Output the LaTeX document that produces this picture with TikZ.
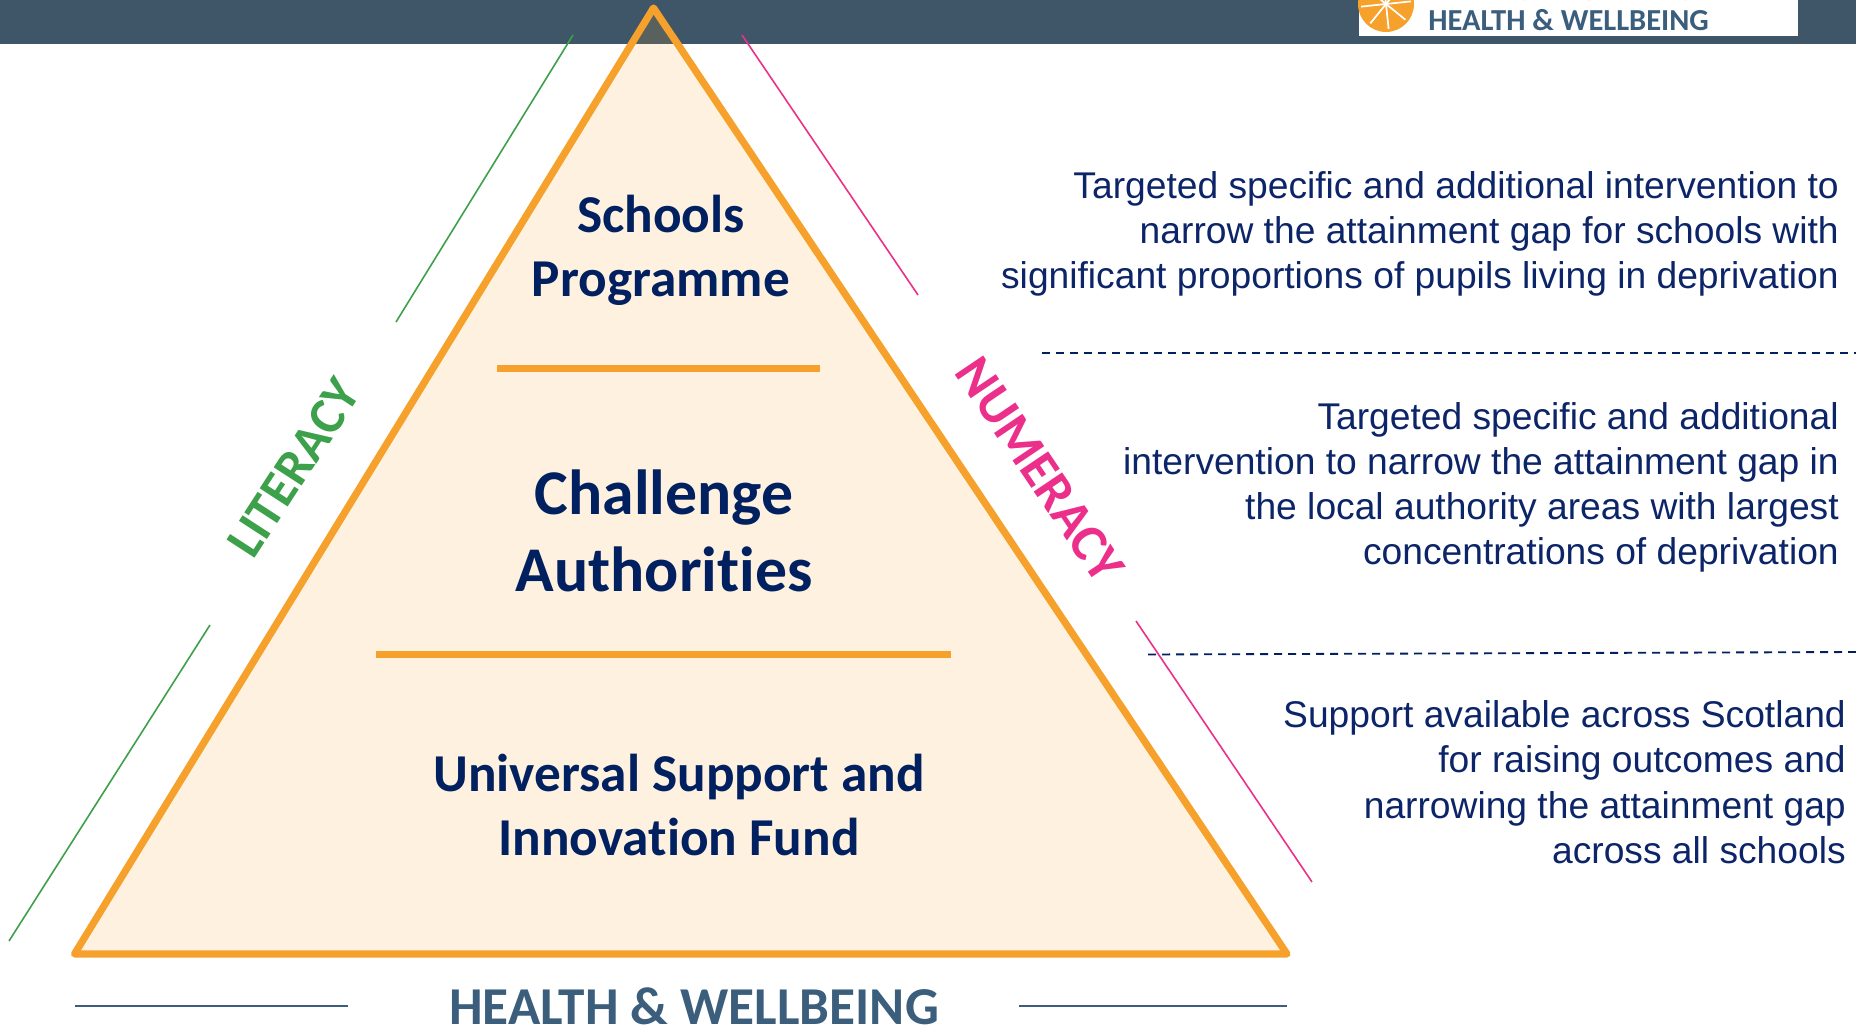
\documentclass[tikz,border=0pt]{standalone}
\usepackage{fontspec}
\setmainfont{Liberation Sans}
\newfontfamily\carl[Ligatures=CommonOff]{Carlito}
\definecolor{band}{HTML}{3E5668}
\definecolor{navy}{HTML}{002060}
\definecolor{orange}{HTML}{F6A12B}
\definecolor{litgreen}{HTML}{3DA04B}
\definecolor{numpink}{HTML}{EB2F8A}
\definecolor{hwblue}{HTML}{3B5E7C}
\definecolor{rightnavy}{HTML}{0C2468}
\tikzset{
  x=0.75pt,y=-0.75pt,
  tier/.style={text=navy,align=center,inner sep=0},
  sidetext/.style={font=\fontsize{27.8bp}{33.75bp}\selectfont,text=rightnavy,align=right,anchor=north east,inner sep=0},
  tierline/.style={draw=orange,line width=5.25pt},
  litline/.style={draw=litgreen,line width=1.2pt},
  numline/.style={draw=numpink,line width=1.2pt},
  hwline/.style={draw=hwblue,line width=1.2pt},
  sep/.style={draw=navy,line width=1.4pt,dash pattern=on 6pt off 4.5pt},
}
\begin{document}
\begin{tikzpicture}
\useasboundingbox (0,0) rectangle (1856,1028);
\clip (0,0) rectangle (1856,1028);
% header band and logo
\fill[band] (0,0) rectangle (1856,44);
\fill[white] (1359,0) rectangle (1798,36);
\fill[orange] (1386,4) circle (28);
\foreach \a in {0,45,...,315}{\draw[white,line width=1.3pt] (1386,4) -- ++(\a-6:25);}
\node[anchor=base west,inner sep=0,text=hwblue,font=\carl\bfseries\fontsize{22.8bp}{24bp}\selectfont] (logo) at (1428,31) {HEALTH \& WELLBEING};
\node[anchor=base west,inner sep=0,text=litgreen!40,font=\carl\bfseries\fontsize{22.8bp}{24bp}\selectfont] (logolit) at (1429,0.5) {LITERACY};
\node[anchor=base west,inner sep=0,text=numpink!40,font=\carl\bfseries\fontsize{22.8bp}{24bp}\selectfont] (logonum) at (1559,0.5) {NUMERACY};
% pyramid
\coordinate (apex) at (653.5,8);
\coordinate (bl) at (74.5,954);
\coordinate (br) at (1287,954);
\fill[orange,fill opacity=0.15] (apex) -- (br) -- (bl) -- cycle;
\draw[orange,line width=5.4pt,line join=round] (apex) -- (br) -- (bl) -- cycle;
% tier dividers
\coordinate (t1l) at (497,368); \coordinate (t1r) at (820,368);
\coordinate (t2l) at (376,654.5); \coordinate (t2r) at (951,654.5);
\draw[tierline] (t1l) -- (t1r);
\draw[tierline] (t2l) -- (t2r);
% tier labels
\node[tier,font=\carl\bfseries\fontsize{39.8bp}{48bp}\selectfont] (schools) at (661,250) {Schools\\Programme};
\node[tier,font=\carl\bfseries\fontsize{47.6bp}{57.5bp}\selectfont] (challenge) at (664,531) {Challenge\\Authorities};
\node[tier,font=\carl\bfseries\fontsize{39.8bp}{48bp}\selectfont] (universal) at (679,805) {Universal Support and\\Innovation Fund};
% side labels and lines
\coordinate (g1a) at (573,35); \coordinate (g1b) at (396,322);
\coordinate (g2a) at (210,625); \coordinate (g2b) at (9,941);
\coordinate (p1a) at (742,35); \coordinate (p1b) at (918,295);
\coordinate (p2a) at (1136,621); \coordinate (p2b) at (1312,882);
\draw[litline] (g1a) -- (g1b);
\draw[litline] (g2a) -- (g2b);
\draw[numline] (p1a) -- (p1b);
\draw[numline] (p2a) -- (p2b);
\node[rotate=57,text=litgreen,inner sep=0,font=\carl\bfseries\fontsize{38.5bp}{44bp}\selectfont] (lit) at (294,468) {LITERACY};
\node[rotate=-56,text=numpink,inner sep=0,font=\carl\bfseries\fontsize{39.5bp}{44bp}\selectfont] (num) at (1040,470) {NUMERACY};
% right descriptions
\node[sidetext] (d1) at (1839,171) {Targeted specific and additional intervention to\\narrow the attainment gap for schools with\\significant proportions of pupils living in deprivation};
\node[sidetext] (d2) at (1839,402) {Targeted specific and additional\\intervention to narrow the attainment gap in\\the local authority areas with largest\\concentrations of deprivation};
\node[sidetext] (d3) at (1846,700.5) {Support available across Scotland\\for raising outcomes and\\narrowing the attainment gap\\across all schools};
\coordinate (s1a) at (1042,352.7); \coordinate (s1b) at (1856,352.7);
\coordinate (s2a) at (1148,654.5); \coordinate (s2b) at (1856,652);
\draw[sep] (s1a) -- (s1b);
\draw[sep] (s2a) -- (s2b);
% bottom label
\coordinate (h1a) at (75,1006); \coordinate (h1b) at (348,1006);
\coordinate (h2a) at (1019,1006); \coordinate (h2b) at (1287,1006);
\draw[hwline] (h1a) -- (h1b);
\draw[hwline] (h2a) -- (h2b);
\node[text=hwblue,inner sep=0,anchor=base,font=\carl\bfseries\fontsize{39.8bp}{44bp}\selectfont] (hw) at (694,1024) {HEALTH \& WELLBEING};
\end{tikzpicture}
\end{document}
